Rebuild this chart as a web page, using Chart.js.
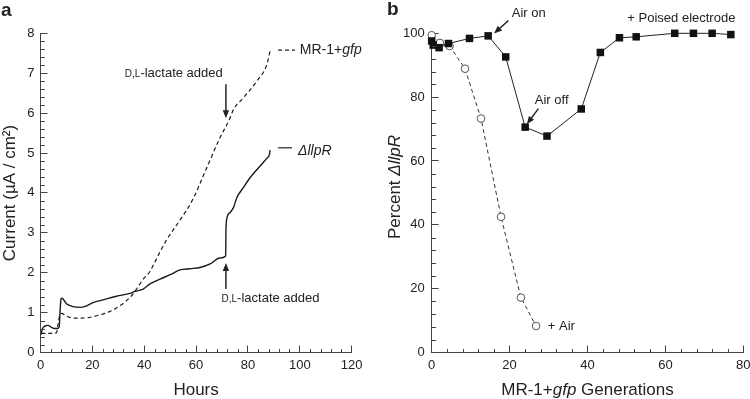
<!DOCTYPE html>
<html>
<head>
<meta charset="utf-8">
<script src="https://cdn.jsdelivr.net/npm/chart.js@4/dist/chart.umd.min.js"></script>
<style>
  body { margin: 0; background: #fff; }
  #wrap { position: relative; width: 750px; height: 399px; }
  canvas { position: absolute; top: 0; }
</style>
</head>
<body>
<div id="wrap">
  <canvas id="chartA" width="375" height="399" style="left:0"></canvas>
  <canvas id="chartB" width="375" height="399" style="left:375px"></canvas>
</div>
<script>
// panel a: current vs hours
const hoursGfp = [0.3, 1, 3, 5, 6.2, 6.8, 7.5, 8.2, 9.5, 11.3, 13.9, 17.8, 21.6, 26.8, 30.6, 34.5, 36.4, 39.6, 42.2, 44.1, 48.6, 53.8, 58.6, 64.1, 69.2, 73.1, 74.4, 78.2, 83.4, 87.3, 88.5]
const currentGfp = [0.48, 0.48, 0.48, 0.48, 0.5, 0.72, 0.95, 0.98, 0.93, 0.88, 0.86, 0.87, 0.92, 1.03, 1.17, 1.38, 1.53, 1.84, 2.03, 2.27, 2.82, 3.32, 3.82, 4.63, 5.38, 5.88, 6.09, 6.38, 6.8, 7.22, 7.55]
const hoursLlpR = [0.2, 0.8, 1.7, 2.9, 4.2, 5.5, 6.5, 7.2, 7.6, 7.9, 8.3, 10, 12.6, 15.2, 17.8, 20.3, 24.2, 29.3, 34.5, 36.4, 39.6, 42.2, 46.1, 50, 53.8, 57.5, 61.5, 65.4, 69.2, 71.4, 71.5, 71.8, 73.1, 74.4, 75.7, 78.2, 80.8, 85.3, 87.3, 88.3, 88.5]
const currentLlpR = [0.45, 0.6, 0.66, 0.68, 0.63, 0.6, 0.6, 0.64, 1.1, 1.34, 1.36, 1.22, 1.15, 1.13, 1.17, 1.25, 1.32, 1.41, 1.48, 1.53, 1.59, 1.72, 1.84, 1.95, 2.07, 2.1, 2.13, 2.22, 2.37, 2.42, 3.0, 3.34, 3.51, 3.63, 3.88, 4.13, 4.38, 4.72, 4.87, 4.97, 5.07]

// panel b: percent llpR vs generations
const genPoised = [0, 0.4, 1.9, 4.3, 9.7, 14.5, 19.0, 24.0, 29.6, 38.4, 43.3, 48.2, 52.5, 62.4, 67.2, 72.0, 76.8]
const pctPoised = [97.6, 96.3, 95.5, 96.8, 98.4, 99.2, 92.6, 70.6, 67.8, 76.3, 94.0, 98.6, 98.9, 100, 100, 100, 99.6]
const genAir = [0, 2.1, 4.6, 8.55, 12.66, 17.8, 22.9, 26.8]
const pctAir = [99.4, 97.0, 96.0, 88.9, 73.3, 42.5, 17.2, 8.3]

const FONT = "'Liberation Sans', Arial, Helvetica, sans-serif"
const f = (size, style) => (style ? style + ' ' : '') + size + 'px ' + FONT
const INK = '#222'
const AXIS = '#444'
const MAJOR_TICK = 7

const pts = (xs, ys) => xs.map((x, i) => ({ x, y: ys[i] }))

function drawParts(ctx, parts, x, y, align) {
  const widths = parts.map(p => { ctx.font = p[1]; return ctx.measureText(p[0]).width })
  const total = widths.reduce((a, b) => a + b, 0)
  let cx = align === 'center' ? x - total / 2 : align === 'right' ? x - total : x
  ctx.textAlign = 'left'
  ctx.textBaseline = 'alphabetic'
  parts.forEach((p, i) => {
    ctx.font = p[1]
    ctx.fillText(p[0], cx, y)
    cx += widths[i]
  })
}

// minor ticks inside the axes (major ones come from the scales' own grid ticks)
function makeMinorTicks(spec) {
  return {
    id: 'minorTicks',
    afterDraw(chart) {
      const { ctx, chartArea: a, scales: { x, y } } = chart
      const bottom = Math.round(a.bottom)
      const left = Math.round(a.left)
      ctx.save()
      ctx.strokeStyle = AXIS
      ctx.lineWidth = 1
      ctx.setLineDash([])
      ctx.beginPath()
      const nx = Math.round((x.max - x.min) / spec.xMinor)
      const perX = Math.round(spec.xMajor / spec.xMinor)
      for (let i = 0; i <= nx; i++) {
        if (i % perX === 0) continue
        const px = Math.round(x.getPixelForValue(x.min + i * spec.xMinor)) + 0.5
        ctx.moveTo(px, bottom)
        ctx.lineTo(px, bottom - 4)
      }
      const ny = Math.round((y.max - y.min) / spec.yMinor)
      const perY = Math.round(spec.yMajor / spec.yMinor)
      for (let i = 0; i <= ny; i++) {
        if (i % perY === 0) continue
        const py = Math.round(y.getPixelForValue(y.min + i * spec.yMinor)) + 0.5
        ctx.moveTo(left, py)
        ctx.lineTo(left + 4, py)
      }
      ctx.stroke()
      ctx.restore()
    }
  }
}

// annotations, titles and panel letter for one panel
function makeNotes(spec) {
  return {
    id: 'notes',
    afterDraw(chart) {
      const { ctx, chartArea: a, scales: { x, y } } = chart
      ctx.save()
      ctx.fillStyle = INK
      ctx.strokeStyle = INK
      for (const n of spec.items) {
        if (n.kind === 'text') {
          drawParts(ctx, n.parts, x.getPixelForValue(n.x), y.getPixelForValue(n.y), n.align)
        } else if (n.kind === 'line') {
          ctx.lineWidth = 1.2
          ctx.setLineDash(n.dash || [])
          ctx.beginPath()
          ctx.moveTo(x.getPixelForValue(n.x0), y.getPixelForValue(n.y0))
          ctx.lineTo(x.getPixelForValue(n.x1), y.getPixelForValue(n.y1))
          ctx.stroke()
          ctx.setLineDash([])
        } else if (n.kind === 'arrow') {
          const x0 = x.getPixelForValue(n.x0), y0 = y.getPixelForValue(n.y0)
          const x1 = x.getPixelForValue(n.x1), y1 = y.getPixelForValue(n.y1)
          const ang = Math.atan2(y1 - y0, x1 - x0)
          const hl = 8, hw = 3.2
          ctx.lineWidth = 1.5
          ctx.beginPath()
          ctx.moveTo(x0, y0)
          ctx.lineTo(x1 - Math.cos(ang) * hl * 0.8, y1 - Math.sin(ang) * hl * 0.8)
          ctx.stroke()
          ctx.beginPath()
          ctx.moveTo(x1, y1)
          ctx.lineTo(x1 - Math.cos(ang) * hl - Math.sin(ang) * hw, y1 - Math.sin(ang) * hl + Math.cos(ang) * hw)
          ctx.lineTo(x1 - Math.cos(ang) * hl + Math.sin(ang) * hw, y1 - Math.sin(ang) * hl - Math.cos(ang) * hw)
          ctx.closePath()
          ctx.fill()
        }
      }
      drawParts(ctx, spec.xTitle, (a.left + a.right) / 2, spec.xTitleY, 'center')
      ctx.save()
      ctx.translate(spec.yTitleX, spec.yTitleMid)
      ctx.rotate(-Math.PI / 2)
      drawParts(ctx, spec.yTitle, 0, 0, 'center')
      ctx.restore()
      drawParts(ctx, [[spec.letter, f(19, 'bold')]], spec.letterX, spec.letterY, 'left')
      ctx.restore()
    }
  }
}

// negative tickLength turns the major ticks inward; padding compensates for labels
function axis(min, max, step, size, padding, horizontal) {
  return {
    type: 'linear',
    min,
    max,
    grid: {
      display: true,
      drawOnChartArea: false,
      drawTicks: true,
      tickLength: -MAJOR_TICK,
      tickColor: AXIS,
      tickWidth: 1
    },
    border: { display: true, color: AXIS, width: 1 },
    ticks: { stepSize: step, padding: padding + MAJOR_TICK, color: INK, font: { family: FONT, size: 13 }, maxRotation: 0, autoSkip: false },
    afterFit: s => {
      if (horizontal) s.height = size
      else s.width = size
      s.paddingLeft = 0
      s.paddingRight = 0
      s.paddingTop = 0
      s.paddingBottom = 0
    }
  }
}

const ticksA = makeMinorTicks({ xMajor: 20, xMinor: 4, yMajor: 1, yMinor: 0.2 })
const ticksB = makeMinorTicks({ xMajor: 20, xMinor: 4, yMajor: 20, yMinor: 4 })

const notesA = makeNotes({
  letter: 'a', letterX: 1, letterY: 16,
  xTitle: [['Hours', f(17)]], xTitleY: 395,
  yTitle: [['Current (µA / cm²)', f(17)]], yTitleX: 14.5, yTitleMid: 193,
  items: [
    { kind: 'text', x: 51.4, y: 6.91, align: 'center', parts: [['D,L', f(10)], ['-lactate added', f(13)]] },
    { kind: 'arrow', x0: 71.5, y0: 6.72, x1: 71.5, y1: 5.87 },
    { kind: 'line', x0: 91.6, y0: 7.58, x1: 98.1, y1: 7.58, dash: [4, 3] },
    { kind: 'text', x: 100, y: 7.47, align: 'left', parts: [['MR-1+', f(14)], ['gfp', f(14, 'italic')]] },
    { kind: 'line', x0: 91.6, y0: 5.13, x1: 97, y1: 5.13 },
    { kind: 'text', x: 99.3, y: 4.95, align: 'left', parts: [['ΔllpR', f(14, 'italic')]] },
    { kind: 'text', x: 88.7, y: 1.26, align: 'center', parts: [['D,L', f(10)], ['-lactate added', f(13)]] },
    { kind: 'arrow', x0: 71.5, y0: 1.59, x1: 71.5, y1: 2.24 }
  ]
})

const notesB = makeNotes({
  letter: 'b', letterX: 12, letterY: 15,
  xTitle: [['MR-1+', f(17)], ['gfp', f(17, 'italic')], [' Generations', f(17)]], xTitleY: 395,
  yTitle: [['Percent ', f(17)], ['ΔllpR', f(17, 'italic')]], yTitleX: 25, yTitleMid: 187,
  items: [
    { kind: 'text', x: 24.9, y: 105.1, align: 'center', parts: [['Air on', f(13)]] },
    { kind: 'arrow', x0: 19.7, y0: 104.0, x1: 16.0, y1: 99.9 },
    { kind: 'text', x: 64.1, y: 103.5, align: 'center', parts: [['+ Poised electrode', f(13)]] },
    { kind: 'text', x: 30.8, y: 78.0, align: 'center', parts: [['Air off', f(13)]] },
    { kind: 'arrow', x0: 27.4, y0: 76.4, x1: 24.4, y1: 71.5 },
    { kind: 'text', x: 29.8, y: 6.96, align: 'left', parts: [['+ Air', f(13)]] }
  ]
})

const chartA = new Chart(document.getElementById('chartA'), {
  type: 'line',
  plugins: [ticksA, notesA],
  data: {
    datasets: [
      {
        label: 'ΔllpR',
        data: pts(hoursLlpR, currentLlpR),
        borderColor: '#1a1a1a',
        borderWidth: 1.4,
        pointRadius: 0,
        cubicInterpolationMode: 'monotone'
      },
      {
        label: 'MR-1+gfp',
        data: pts(hoursGfp, currentGfp),
        borderColor: '#1a1a1a',
        borderWidth: 1.2,
        borderDash: [4, 3],
        pointRadius: 0,
        cubicInterpolationMode: 'monotone'
      }
    ]
  },
  options: {
    responsive: false,
    animation: false,
    devicePixelRatio: 1,
    layout: { padding: { left: 0, top: 33.3, right: 23.3, bottom: 0 } },
    scales: {
      x: axis(0, 120, 20, 46.5, 5, true),
      y: axis(0, 8, 1, 40.5, 6, false)
    },
    plugins: { legend: { display: false }, tooltip: { enabled: false } }
  }
})

const chartB = new Chart(document.getElementById('chartB'), {
  type: 'line',
  plugins: [ticksB, notesB],
  data: {
    datasets: [
      {
        label: '+ Poised electrode',
        data: pts(genPoised, pctPoised),
        borderColor: '#222',
        borderWidth: 1,
        pointStyle: 'rect',
        pointRadius: 5.3,
        pointBackgroundColor: '#111',
        pointBorderColor: '#111',
        pointBorderWidth: 0,
        clip: false
      },
      {
        label: '+ Air',
        data: pts(genAir, pctAir),
        borderColor: '#333',
        borderWidth: 1,
        borderDash: [4, 3],
        pointStyle: 'circle',
        pointRadius: 3.8,
        pointBackgroundColor: '#fff',
        pointBorderColor: '#555',
        pointBorderWidth: 1,
        clip: false
      }
    ]
  },
  options: {
    responsive: false,
    animation: false,
    devicePixelRatio: 1,
    layout: { padding: { left: 0, top: 33.3, right: 6.7, bottom: 0 } },
    scales: {
      x: axis(0, 80, 20, 46.5, 5, true),
      y: axis(0, 100, 20, 56.7, 7, false)
    },
    plugins: { legend: { display: false }, tooltip: { enabled: false } }
  }
})
</script>
</body>
</html>
